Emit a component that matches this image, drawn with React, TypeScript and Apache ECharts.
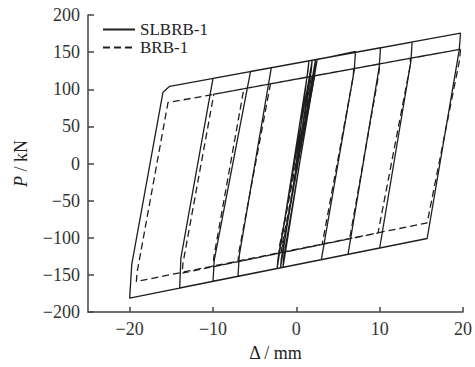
import React, { useEffect, useRef } from "react";
import * as echarts from "echarts";

// SLBRB-1 (solid) hysteresis path: displacement (mm) and load (kN)
const slbrbX = [
  0, 1.5, 1.4, -2.3, -2.2, 1.9, 1.8, -1.9, -1.8, 2.3, 2.2, -1.6, -1.5, 2.5,
  7.1, 6.95, 3.0, -7.0, -6.85, -3.0,
  10.1, 9.95, 6.2, -10.0, -9.85, -5.5,
  13.9, 13.75, 10.0, -14.0, -13.85, -10.0,
  19.7, 19.55, 15.7, -20.0, -19.75, -16.0, -15.2, 19.7,
];
const slbrbP = [
  0, 137, 125, -141, -128, 139, 126, -141, -128, 140, 127, -140, -125, 140,
  151, 126, -129.4, -151.8, -124, 129.2,
  155.9, 130, -122.3, -158.5, -130, 123.9,
  163.6, 138, -113.8, -167.5, -127, 114.7,
  175.5, 153, -101, -181.3, -136, 96, 104, 175.5,
];

// BRB-1 (dashed) hysteresis path
const brbX = [
  0, 1.8, 1.7, -2.1, -2.0, 2.1, 2.0, -1.8, -1.7, 2.2,
  6.9, 6.8, 3.1, -7.0, -6.9, -3.1,
  10.0, 9.9, 6.4, -10.0, -9.9, -6.3,
  13.7, 13.6, 9.8, -13.7, -13.6, -9.9,
  19.7, 19.6, 15.7, -19.2, -19.1, -15.4, 19.7,
];
const brbP = [
  0, 117, 106, -121, -110, 118, 107, -120, -109, 118,
  127.7, 115, -108.9, -132.2, -120, 107.3,
  134.1, 121, -101.4, -139.1, -126, 100.7,
  141.7, 128, -93.6, -147.6, -134, 93.3,
  154, 140, -80, -159, -146, 82, 154,
];

const seriesNames = ["SLBRB-1", "BRB-1"];
const xTicks = [-20, -10, 0, 10, 20];

const FONT = "'Liberation Serif', 'DejaVu Serif', serif";
const INK = "#1e1e1e";
const AXIS = "#444";

const pair = (xs: number[], ys: number[]) => xs.map((x, i) => [x, ys[i]]);
const minus = (v: number | string) => String(v).replace("-", "\u2212");

export default function App() {
  const ref = useRef<HTMLDivElement>(null);
  useEffect(() => {
    if (!ref.current) return;
    const chart = echarts.init(ref.current, null, { renderer: "svg" });
    chart.setOption({
      animation: false,
      backgroundColor: "#fff",
      grid: { left: 88, right: 9, top: 15, bottom: 51, containLabel: false },
      legend: {
        orient: "vertical",
        left: 102,
        top: 21,
        padding: 0,
        itemGap: 1,
        itemWidth: 32,
        itemHeight: 10,
        itemStyle: { opacity: 0 },
        textStyle: { fontFamily: FONT, fontSize: 17, color: INK, lineHeight: 17 },
        data: seriesNames,
      },
      xAxis: {
        type: "value",
        min: -25,
        max: 20,
        name: "\u0394 / mm",
        nameLocation: "middle",
        nameGap: 32,
        nameTextStyle: { fontFamily: FONT, fontSize: 18, color: INK },
        axisLine: { onZero: false, lineStyle: { color: AXIS, width: 1.5 } },
        axisTick: { inside: true, length: 5, customValues: xTicks, lineStyle: { color: AXIS, width: 1.5 } },
        axisLabel: {
          customValues: xTicks,
          margin: 8,
          fontFamily: FONT,
          fontSize: 18,
          color: "#333",
          formatter: (v: number) => minus(v),
        },
        splitLine: { show: false },
      },
      yAxis: {
        type: "value",
        min: -200,
        max: 200,
        interval: 50,
        name: "{i|P} / kN",
        nameLocation: "middle",
        nameRotate: 90,
        nameGap: 58,
        nameTextStyle: {
          fontFamily: FONT,
          fontSize: 18,
          color: INK,
          rich: { i: { fontFamily: FONT, fontSize: 18, fontStyle: "italic", color: INK } },
        },
        axisLine: { onZero: false, lineStyle: { color: AXIS, width: 1.5 } },
        axisTick: { inside: true, length: 6, lineStyle: { color: AXIS, width: 1.5 } },
        axisLabel: {
          margin: 8,
          fontFamily: FONT,
          fontSize: 18,
          color: "#333",
          formatter: (v: number) => minus(v),
        },
        splitLine: { show: false },
      },
      series: [
        {
          name: seriesNames[0],
          type: "line",
          symbol: "none",
          data: pair(slbrbX, slbrbP),
          lineStyle: { color: INK, width: 1.3, type: "solid" },
          itemStyle: { color: INK },
        },
        {
          name: seriesNames[1],
          type: "line",
          symbol: "none",
          data: pair(brbX, brbP),
          lineStyle: { color: INK, width: 1.3, type: [7, 4] },
          itemStyle: { color: INK },
        },
      ],
    });
    return () => chart.dispose();
  }, []);
  return <div ref={ref} style={{ width: 475, height: 367, position: "absolute", left: 0, top: 0 }} />;
}
